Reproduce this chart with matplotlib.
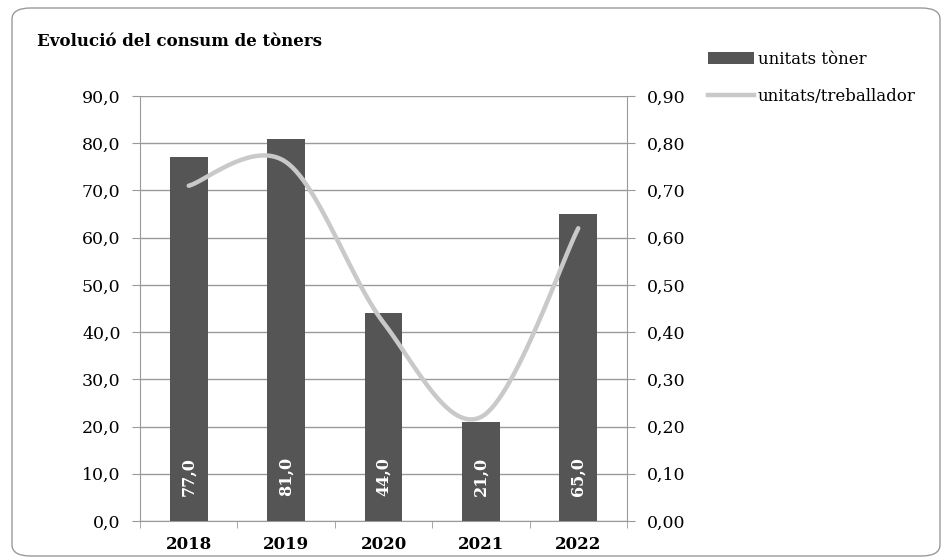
import numpy as np
import matplotlib.pyplot as plt
from matplotlib.patches import FancyBboxPatch, Patch
from matplotlib.lines import Line2D
from matplotlib.ticker import FuncFormatter, FixedLocator

# --- data ---
years = ["2018", "2019", "2020", "2021", "2022"]
units = [77.0, 81.0, 44.0, 21.0, 65.0]
units_per_worker = [0.71, 0.76, 0.42, 0.22, 0.62]

plt.rcParams['font.family'] = ['DejaVu Serif']

BAR_COLOR = '#555555'
LINE_COLOR = '#c9c9c9'
GRID_COLOR = '#9a9a9a'


def smooth_curve(xs, ys, steps=30):
    """Catmull-Rom style smoothing (like Excel's smoothed line)."""
    xs = np.asarray(xs, float)
    ys = np.asarray(ys, float)
    n = len(xs)
    out_x, out_y = [], []
    for i in range(n - 1):
        i0 = max(i - 1, 0)
        i3 = min(i + 2, n - 1)
        mx1 = (xs[i + 1] - xs[i0]) / 2
        my1 = (ys[i + 1] - ys[i0]) / 2
        mx2 = (xs[i3] - xs[i]) / 2
        my2 = (ys[i3] - ys[i]) / 2
        t = np.linspace(0, 1, steps)
        h00 = 2 * t**3 - 3 * t**2 + 1
        h10 = t**3 - 2 * t**2 + t
        h01 = -2 * t**3 + 3 * t**2
        h11 = t**3 - t**2
        out_x.extend(h00 * xs[i] + h10 * mx1 + h01 * xs[i + 1] + h11 * mx2)
        out_y.extend(h00 * ys[i] + h10 * my1 + h01 * ys[i + 1] + h11 * my2)
    return np.array(out_x), np.array(out_y)


fig = plt.figure(figsize=(9.43, 5.6), dpi=100)
W, H = 943, 560
ax = fig.add_axes([140 / W, 1 - 521 / H, (627 - 140) / W, (521 - 96) / H])
ax2 = ax.twinx()

# rounded frame around the whole chart
frame = FancyBboxPatch((12 / W, 4 / H), (928 / W), (548 / H),
                       boxstyle="round,pad=0,rounding_size=0.02",
                       transform=fig.transFigure, fill=False,
                       edgecolor='#9a9a9a', linewidth=1.0, zorder=0)
fig.patches.append(frame)

x = np.arange(len(years))
ax.bar(x, units, width=0.39, color=BAR_COLOR, zorder=3)

for xi, v in zip(x, units):
    ax.annotate(f"{v:.1f}".replace('.', ','), xy=(xi, 0), xytext=(0, 18),
                textcoords='offset points', rotation=90, ha='center', va='bottom',
                color='white', fontsize=11.5, fontweight='bold', zorder=4)

sx, sy = smooth_curve(x, units_per_worker)
ax2.plot(sx, sy, color=LINE_COLOR, linewidth=3.2, solid_capstyle='round', zorder=5)

ax.set_xlim(-0.5, len(years) - 0.5)
ax.set_ylim(0, 90)
ax2.set_ylim(0, 0.9)
ax.set_yticks(np.arange(0, 91, 10))
ax2.set_yticks(np.arange(0, 0.91, 0.1))
ax.yaxis.set_major_formatter(FuncFormatter(lambda v, p: f"{v:.1f}".replace('.', ',')))
ax2.yaxis.set_major_formatter(FuncFormatter(lambda v, p: f"{v:.2f}".replace('.', ',')))

ax.set_xticks(x)
ax.set_xticklabels(years, fontsize=12, fontweight='bold')
ax.xaxis.set_minor_locator(FixedLocator(np.arange(-0.5, len(years), 1.0)))
ax.tick_params(axis='x', which='major', length=0, pad=11)
ax.tick_params(axis='x', which='minor', length=5, color=GRID_COLOR, direction='out')
ax.tick_params(axis='y', length=6, color=GRID_COLOR, labelsize=12.5, pad=8)
ax2.tick_params(axis='y', length=6, color=GRID_COLOR, labelsize=12.5, pad=8)

ax.grid(axis='y', color=GRID_COLOR, linewidth=1.0, zorder=0)
ax.set_axisbelow(True)
for a in (ax, ax2):
    a.spines['top'].set_visible(False)
    for s in ('left', 'right', 'bottom'):
        a.spines[s].set_color(GRID_COLOR)
ax.spines['right'].set_visible(False)
ax2.spines['left'].set_visible(False)
ax2.spines['bottom'].set_visible(False)

fig.text(37 / W, 1 - 42 / H, "Evolució del consum de tòners", fontsize=12,
         fontweight='bold', va='center', ha='left')

handles = [Patch(facecolor=BAR_COLOR, edgecolor='none'),
           Line2D([0], [0], color=LINE_COLOR, linewidth=3.2)]
fig.legend(handles, ["unitats tòner", "unitats/treballador"],
           loc='upper left', bbox_to_anchor=(701 / W, 1 - 44 / H),
           frameon=False, fontsize=12, handlelength=2.8, handleheight=0.7,
           handletextpad=0.2, labelspacing=1.2, borderaxespad=0)

fig.savefig("out.png", dpi=100)
